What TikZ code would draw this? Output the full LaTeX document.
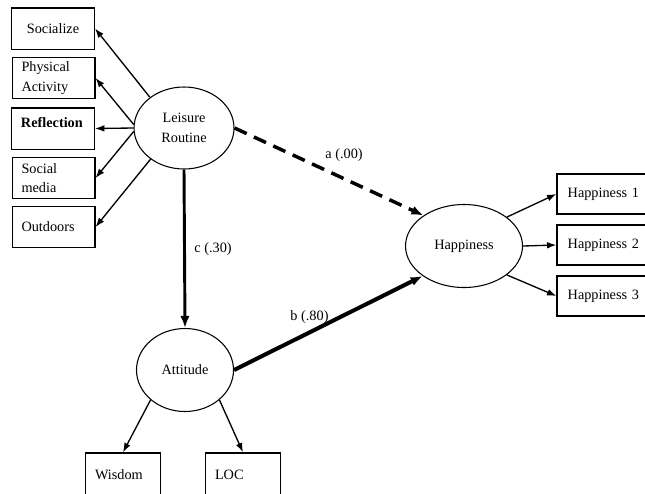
\documentclass[tikz,border=0pt]{standalone}
\usepackage{fontspec}
\setmainfont{Liberation Serif}
\usetikzlibrary{shapes.geometric,arrows.meta}
\begin{document}
\begin{tikzpicture}[x=0.75pt,y=-0.75pt,
	box/.style={draw,line width=1pt,minimum height=31pt,inner xsep=7pt,inner ysep=2pt,text width=48pt,align=left,font=\fontsize{10.7}{14.5}\selectfont},
	latent/.style={draw,ellipse,line width=0.8pt,inner sep=0pt,align=center,font=\fontsize{10.7}{14.5}\selectfont},
	link/.style={line width=1pt,-{Latex[length=7pt,width=5pt]}},
	path/.style={-{Latex[length=9pt,width=7pt]}}]
	\useasboundingbox(0,0)rectangle(645,493);
		\node[box,align=center](soc)at(53,28.5){Socialize};
		\node[box](pa)at(53.5,78){Physical\\Activity};
		\node[box,text depth=9pt,font=\fontsize{10.7}{14.5}\selectfont\bfseries](ref)at(53,128.5){Reflection};
		\node[box](sm)at(53.5,178){Social\\media};
		\node[box](out)at(53.5,227){Outdoors};
		\node[latent,minimum width=75pt,minimum height=61.5pt](lr)at(184,128){Leisure\\Routine};
		\node[latent,minimum width=72.75pt,minimum height=62.25pt](att)at(185,370){Attitude};
		\node[latent,minimum width=87.75pt,minimum height=62.25pt](hap)at(464,246){Happiness};
		\node[box,text width=90pt,inner xsep=8pt,minimum height=30pt](h1)at(627.7,194){Happiness 1};
		\node[box,text width=90pt,inner xsep=8pt,minimum height=30pt](h2)at(627.7,245){Happiness 2};
		\node[box,text width=90pt,inner xsep=8pt,minimum height=30pt](h3)at(627.7,296){Happiness 3};
		\node[box,text width=42pt,minimum height=33pt](wis)at(123,475){Wisdom};
		\node[box,text width=42pt,minimum height=33pt](loc)at(243,475){LOC};
		\draw[link](lr.138)--(soc.east);
		\draw[link](lr.176)--(pa.east);
		\draw[link](lr.180)--(ref.east);
		\draw[link](lr.184)--(sm.east);
		\draw[link](lr.223)--(out.east);
		\draw[link](att.221)--(wis.north);
		\draw[link](att.319)--(loc.north);
		\draw[link](hap.34)--(h1.west);
		\draw[link](hap.east)--(h2.west);
		\draw[link](hap.326)--(h3.west);
		\draw[path,line width=2.2pt](lr.south)--(att.north)node[midway,right=3pt,font=\fontsize{10.7}{14.5}\selectfont]{c (.30)};
		\draw[path,line width=2.6pt,dash pattern=on 10pt off 6pt](lr.east)--(hap.143)node[pos=0.58,above=8pt,font=\fontsize{10.7}{14.5}\selectfont]{a (.00)};
		\draw[path,line width=3pt](att.east)--(hap.216)node[pos=0.4,above=2pt,font=\fontsize{10.7}{14.5}\selectfont]{b (.80)};
	\end{tikzpicture}
\end{document}
